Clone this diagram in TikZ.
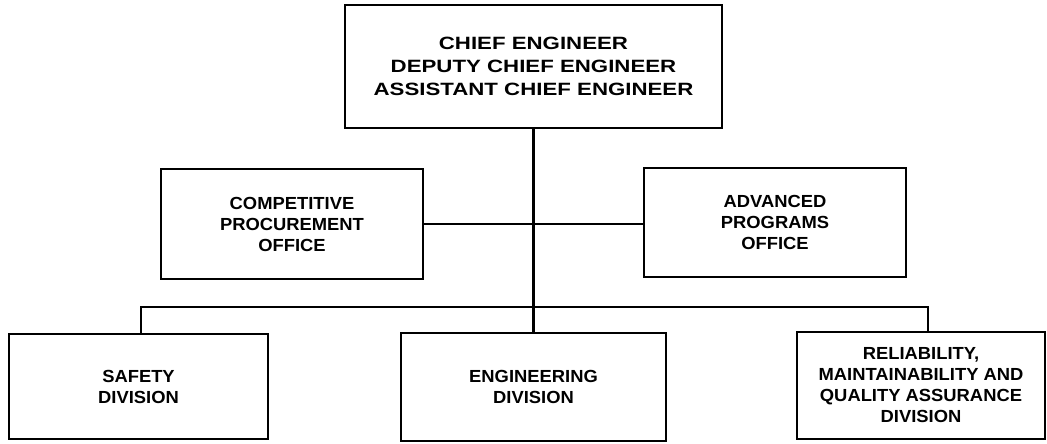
\documentclass[tikz,border=0pt]{standalone}
\usepackage{fontspec}
\newfontfamily\topfont{Liberation Sans}[FakeStretch=1.25]
\newfontfamily\boxfont{Liberation Sans}[FakeStretch=1.05]
\begin{document}
\begin{tikzpicture}[x=1pt,y=-1pt,
  box/.style={draw=black, line width=2.4pt, fill=white, align=center, inner sep=0pt},
  link/.style={line width=2.4pt},
  topstyle/.style={font=\topfont\bfseries\fontsize{17.8}{22.8}\selectfont},
  bstyle/.style={font=\boxfont\bfseries\fontsize{17.5}{21}\selectfont}]
\useasboundingbox (0,0) rectangle (1047,444);
\node[box, topstyle, minimum width=377pt, minimum height=123pt] (chief) at (533.5,66.5)
  {CHIEF ENGINEER\\DEPUTY CHIEF ENGINEER\\ASSISTANT CHIEF ENGINEER};
\node[box, bstyle, minimum width=262pt, minimum height=110pt] (cpo) at (292,224)
  {COMPETITIVE\\PROCUREMENT\\OFFICE};
\node[box, bstyle, minimum width=262pt, minimum height=109pt] (apo) at (775,222.5)
  {ADVANCED\\PROGRAMS\\OFFICE};
\node[box, bstyle, minimum width=259pt, minimum height=105pt] (safety) at (138.5,386.5)
  {SAFETY\\DIVISION};
\node[box, bstyle, minimum width=265pt, minimum height=108pt] (eng) at (533.5,387)
  {ENGINEERING\\DIVISION};
\node[box, bstyle, minimum width=248pt, minimum height=107pt] (rmqa) at (921,385.5)
  {RELIABILITY,\\MAINTAINABILITY AND\\QUALITY ASSURANCE\\DIVISION};
\coordinate (busL) at (141,307);
\coordinate (busR) at (928,307);
\draw[link] (chief.south) -- (eng.north);
\draw[link] (cpo.east) -- (cpo.east -| apo.west);
\draw[link] (busL |- safety.north) -- (busL) -- (busR) -- (busR |- rmqa.north);
\end{tikzpicture}
\end{document}
